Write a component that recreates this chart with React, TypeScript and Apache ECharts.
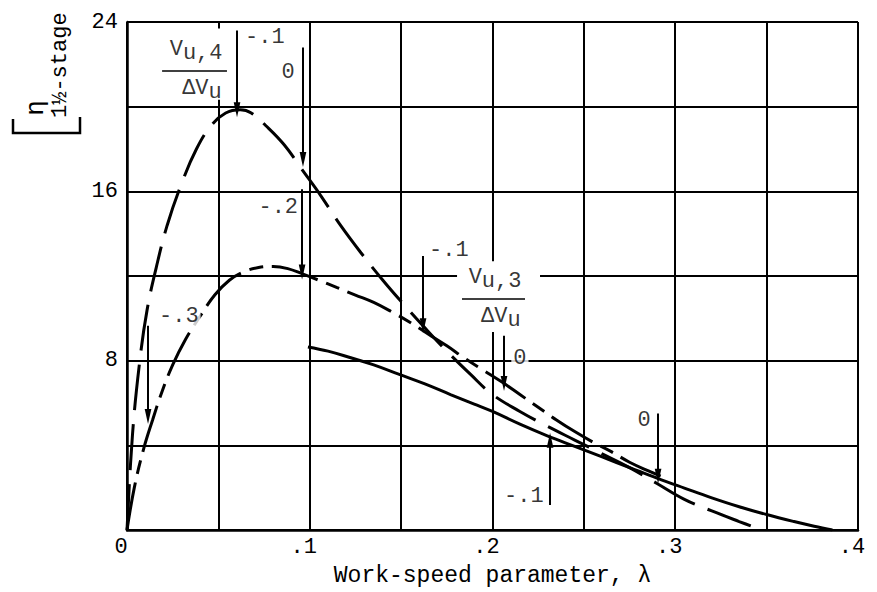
import React, { useEffect, useRef } from "react";
import * as echarts from "echarts";

// ---- data ----
const curveLongDash: [number, number][] = [
  [0, 0], [0.003, 4.5], [0.007, 8.0], [0.011, 10.4], [0.016, 12.4], [0.022, 14.4],
  [0.03, 16.4], [0.038, 18.0], [0.046, 19.1], [0.054, 19.7], [0.062, 19.85],
  [0.068, 19.7], [0.076, 19.1], [0.086, 18.2], [0.096, 17.0], [0.106, 15.8],
  [0.116, 14.5], [0.128, 13.1], [0.14, 11.8], [0.152, 10.6], [0.163, 9.55],
  [0.175, 8.45], [0.188, 7.35], [0.2, 6.4], [0.215, 5.6], [0.23, 4.9], [0.245, 4.25],
  [0.26, 3.6], [0.275, 2.95], [0.29, 2.2], [0.305, 1.45], [0.32, 0.9], [0.335, 0.4],
  [0.346, 0.05],
];
const curveMidDash: [number, number][] = [
  [0, 0], [0.004, 2.0], [0.009, 3.8], [0.014, 5.2], [0.019, 6.5], [0.025, 7.8],
  [0.032, 9.0], [0.04, 10.1], [0.048, 11.1], [0.056, 11.8], [0.064, 12.2], [0.072, 12.4],
  [0.08, 12.45], [0.088, 12.35], [0.096, 12.1], [0.105, 11.8], [0.115, 11.45],
  [0.125, 11.1], [0.135, 10.75], [0.145, 10.3], [0.155, 9.8], [0.165, 9.25],
  [0.175, 8.7], [0.185, 8.1], [0.195, 7.55], [0.205, 7.0], [0.215, 6.4], [0.225, 5.8],
  [0.235, 5.2], [0.245, 4.65], [0.255, 4.15], [0.265, 3.7], [0.275, 3.2], [0.285, 2.8],
  [0.292, 2.55],
];
const curveSolid: [number, number][] = [
  [0.099, 8.65], [0.11, 8.45], [0.122, 8.15], [0.135, 7.8], [0.149, 7.35], [0.163, 6.9],
  [0.177, 6.4], [0.19, 5.95], [0.2, 5.6], [0.215, 5.0], [0.23, 4.45], [0.245, 3.95],
  [0.26, 3.45], [0.275, 2.95], [0.29, 2.45], [0.305, 1.98], [0.32, 1.52], [0.335, 1.1],
  [0.35, 0.73], [0.365, 0.4], [0.376, 0.18], [0.386, 0],
];

const yTickLabels = [8, 16, 24];

// annotation arrows (lambda, start value, arrow-tip value)
const arrowX = [0.0602, 0.0963, 0.0958, 0.0115, 0.162, 0.2063, 0.2906, 0.2315];
const arrowFrom = [23.6, 22.8, 16.1, 9.65, 12.94, 9.18, 5.5, 1.18];
const arrowTo = [19.86, 17.5, 12.19, 5.36, 9.65, 6.92, 2.54, 4.24];

// annotation labels
const annText = ["-.1", "0", "-.2", "-.3", "-.1", "0", "0", "-.1"];
const annX = [0.0635, 0.0881, 0.0947, 0.0164, 0.1642, 0.215, 0.283, 0.2052];
const annY = [23.25, 21.6, 15.25, 10.07, 13.2, 8.1, 5.18, 1.6];
const annPos = ["right", "inside", "left", "right", "right", "inside", "inside", "right"];

// fraction labels V_u,n / ΔV_u
const fracIndex = ["4", "3"];
const fracBarX0 = [0.0192, 0.1833];
const fracBarX1 = [0.0547, 0.2178];
const fracBarY = [21.69, 10.92];
const fracTopX = [0.0378, 0.2014];
const fracBotX = [0.041, 0.2046];
// white boxes behind the fractions (they interrupt the grid in the original)
const boxX0 = [0.018, 0.1806];
const boxX1 = [0.0564, 0.226];
const boxY0 = [20.33, 9.36];
const boxY1 = [23.69, 12.7];

const FONT = "'Liberation Mono', 'DejaVu Sans Mono', monospace";
const FS = 22;
const ARROW = "path://M4 0 L8 18 L0 18 Z";

function fmtX(v: number): string {
  if (Math.abs(v) < 1e-9) return "0";
  const t = v * 10;
  if (Math.abs(t - Math.round(t)) < 1e-6) return "." + Math.round(t);
  return "";
}

export default function App() {
  const ref = useRef<HTMLDivElement>(null);
  useEffect(() => {
    if (!ref.current) return;
    const chart = echarts.init(ref.current, null, { renderer: "svg" });
    const lineBase = { type: "line", showSymbol: false, symbol: "none", smooth: 0.4, silent: true, z: 3 };
    const richText = {
      v: { fontFamily: FONT, fontSize: FS, color: "#000", lineHeight: 30 },
      s: { fontFamily: FONT, fontSize: FS, color: "#000", lineHeight: 18, verticalAlign: "bottom" },
    };
    const fracData: any[] = [];
    fracIndex.forEach((n, i) => {
      fracData.push({
        value: [fracTopX[i], fracBarY[i]],
        label: { show: true, position: "top", distance: 6, formatter: `{v|V}{s|u,${n}}`, rich: richText },
      });
      fracData.push({
        value: [fracBotX[i], fracBarY[i]],
        label: { show: true, position: "bottom", distance: 3, formatter: `{v|ΔV}{s|u}`, rich: richText },
      });
    });
    const option: any = {
      animation: false,
      backgroundColor: "#fff",
      grid: { left: 127, top: 22, width: 731, height: 510, show: false },
      xAxis: {
        type: "value", min: 0, max: 0.4, interval: 0.05,
        axisLine: { show: true, lineStyle: { color: "#000", width: 2.5 } },
        axisTick: { show: false },
        splitLine: { show: true, lineStyle: { color: "#000", width: 2 } },
        axisLabel: { formatter: fmtX, fontFamily: FONT, fontSize: FS, color: "#000", margin: 6, padding: [0, 12, 0, 0] },
        name: "Work-speed parameter, λ", nameLocation: "middle", nameGap: 34,
        nameTextStyle: { fontFamily: FONT, fontSize: 23, color: "#000" },
      },
      yAxis: {
        type: "value", min: 0, max: 24, interval: 4,
        axisLine: { show: true, lineStyle: { color: "#000", width: 2.5 } },
        axisTick: { show: false },
        splitLine: { show: true, lineStyle: { color: "#000", width: 2 } },
        axisLabel: {
          formatter: (v: number) => (yTickLabels.indexOf(v) >= 0 ? String(v) : ""),
          fontFamily: FONT, fontSize: FS, color: "#000", margin: 9,
        },
      },
      series: [
        { ...lineBase, data: curveLongDash, lineStyle: { color: "#000", width: 3, type: [46, 14] } },
        { ...lineBase, data: curveMidDash, lineStyle: { color: "#000", width: 3, type: [48, 9, 14, 9] } },
        { ...lineBase, data: curveSolid, lineStyle: { color: "#000", width: 3, type: "solid" } },
        {
          type: "scatter", symbolSize: 0, silent: true, z: 5,
          data: annText.map((t, i) => ({
            value: [annX[i], annY[i]],
            label: { show: true, formatter: t, position: annPos[i], distance: 0 },
          })),
          label: {
            show: true, fontFamily: FONT, fontSize: FS, color: "#000",
            backgroundColor: "#fff", padding: [1, 2],
          },
          markLine: {
            silent: true, symbol: ["none", ARROW], symbolSize: 15, symbolKeepAspect: true,
            label: { show: false },
            lineStyle: { color: "#000", width: 2, type: "solid" },
            emphasis: { disabled: true },
            data: arrowX.map((x, i) => [{ coord: [x, arrowFrom[i]] }, { coord: [x, arrowTo[i]] }]),
          },
        },
        {
          type: "scatter", symbolSize: 0, silent: true, z: 2,
          data: fracData,
          label: { show: true, color: "#000" },
          markArea: {
            silent: true,
            itemStyle: { color: "#fff", borderWidth: 0 },
            label: { show: false },
            emphasis: { disabled: true },
            data: boxX0.map((x, i) => [{ coord: [x, boxY0[i]] }, { coord: [boxX1[i], boxY1[i]] }]),
          },
          markLine: {
            silent: true, symbol: ["none", "none"],
            label: { show: false },
            lineStyle: { color: "#000", width: 1.6, type: "solid" },
            emphasis: { disabled: true },
            data: fracBarX0.map((x, i) => [{ coord: [x, fracBarY[i]] }, { coord: [fracBarX1[i], fracBarY[i]] }]),
          },
        },
      ],
      graphic: [
        {
          type: "polyline", silent: true,
          shape: { points: [[13, 119], [13, 133], [80, 133], [80, 117]] },
          style: { stroke: "#000", lineWidth: 2.5, fill: "none" },
        },
        {
          type: "text", x: 36, y: 108, rotation: Math.PI / 2, silent: true,
          style: { text: "η", fontFamily: FONT, fontSize: 26, fill: "#000", align: "center", verticalAlign: "middle" },
        },
        {
          type: "text", x: 60, y: 118, rotation: Math.PI / 2, silent: true,
          style: { text: "1½-stage", fontFamily: FONT, fontSize: FS, fill: "#000", align: "left", verticalAlign: "middle" },
        },
      ],
    };
    chart.setOption(option);
    return () => chart.dispose();
  }, []);
  return (
    <div
      ref={ref}
      style={{ position: "fixed", left: 0, top: 0, width: 877, height: 592, background: "#fff" }}
    />
  );
}
